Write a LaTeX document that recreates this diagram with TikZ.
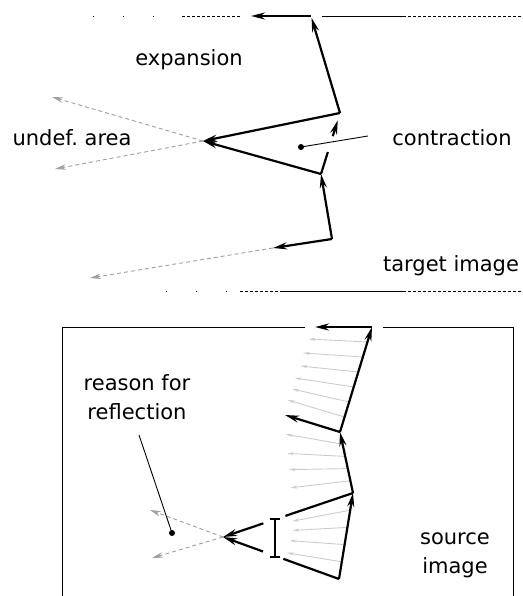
\documentclass[tikz,border=0pt]{standalone}
\usepackage{fontspec}
\setmainfont{DejaVu Sans}
\usetikzlibrary{arrows.meta,calc}

\begin{document}
\begin{tikzpicture}[
  x=1pt, y=-1pt,
  every node/.style={font=\fontsize{21}{29}\selectfont},
  vec/.style={-{Stealth[length=14pt,width=7pt]},line width=2.2pt},
  bar/.style={line width=2.2pt},
  undef/.style={-{Stealth[length=11pt,width=5.5pt]},gray!75,
                dash pattern=on 4pt off 3pt,line width=0.9pt},
  samp/.style={-{Stealth[length=7pt,width=3pt]},gray!40,line width=0.9pt},
  edge/.style={line width=0.9pt},
  fine/.style={line width=0.9pt,dash pattern=on 2.5pt off 2.5pt},
  sparse/.style={line width=0.9pt,dash pattern=on 1pt off 29pt},
]
  \useasboundingbox (0,0) rectangle (522,596);

  % Target image (top)
  \coordinate (t0) at (311,16);
  \coordinate (t0v) at (251,16);
  \coordinate (ta) at (340,113);
  \coordinate (tb) at (321,174);
  \coordinate (tc) at (332,239);
  \coordinate (tx) at (203,141);
  \coordinate (tcv) at (273,248);
  \coordinate (tcu) at (90,278);
  \coordinate (tup) at (52,97);
  \coordinate (tlo) at (55,169);
  \coordinate (tdot) at (301,147);
  \coordinate (tpin) at (368,136);
  % upper border of target image
  \draw[sparse] (93,16) -- (154,16);
  \draw[fine] (182,16) -- (240,16);
  \draw[edge] (322,16) -- (403,16);
  \draw[fine] (403,16) -- (522,16);
  % lower border of target image
  \draw[sparse] (166,291) -- (227,291);
  \draw[fine] (240,291) -- (280,291);
  \draw[edge] (280,291) -- (403,291);
  \draw[fine] (403,291) -- (522,291);
  % undefined area
  \draw[undef] (tx) -- (tup);
  \draw[undef] (tx) -- (tlo);
  \draw[undef] (tcv) -- (tcu);
  % deformed curve and its vectors
  \draw[vec] (t0) -- (t0v);
  \draw[vec,shorten >=2pt] (ta) -- (t0);
  \draw[vec] (ta) -- (tx);
  \draw[vec] (tb) -- (tx);
  \draw[vec] (tc) -- (tb);
  \draw[vec] (tc) -- (tcv);
  \draw[line width=2.2pt] (tb) -- ($(tb)!0.36!(ta)$);
  \draw[vec] ($(tb)!0.62!(ta)$) -- ($(tb)!0.88!(ta)$);
  % contraction pointer
  \fill (tdot) circle (3);
  \draw[edge] (tdot) -- (tpin);
  \node (expansion) at (189,60) {expansion};
  \node (undefarea) at (72,138) {undef.\ area};
  \node (contraction) at (452,138) {contraction};
  \node (target) at (451,266) {target image};

  % Source image (bottom)
  \coordinate (D) at (372,327);
  \coordinate (Dv) at (315,327);
  \coordinate (E) at (340,432);
  \coordinate (Ev) at (285,415);
  \coordinate (F) at (353,493);
  \coordinate (G) at (339,579);
  \coordinate (X) at (223,537);
  \coordinate (xup) at (150,510);
  \coordinate (xlo) at (152,558);
  \coordinate (sdot) at (172,533);
  \coordinate (spin) at (139,435);
  % frame
  \draw[edge] (305,327) -- (62,327) -- (62,600);
  \draw[edge] (383,327) -- (513,327) -- (513,600);
  % sampled vectors
  \foreach \k/\dx/\dy in {1/-59/-3,2/-60/-4,3/-58/-6,4/-59/-9,5/-57/-13,6/-57/-17}
    \draw[samp] ($(D)!\k/7!(E)$) -- ++(\dx,\dy);
  \foreach \k/\dx/\dy in {1/-57/-10,2/-58/-3,3/-59/1,4/-60/7}
    \draw[samp] ($(E)!\k/5!(F)$) -- ++(\dx,\dy);
  \foreach \k/\dx/\dy in {1/-58/11,2/-55/3,3/-55/-4,4/-55/-9}
    \draw[samp] ($(F)!\k/5!(G)$) -- ++(\dx,\dy);
  % reflected vectors
  \draw[undef] (X) -- (xup);
  \draw[undef] (X) -- (xlo);
  % curve and vectors
  \draw[vec] (D) -- (Dv);
  \draw[vec] (E) -- (D);
  \draw[vec] (E) -- (Ev);
  \draw[vec] (F) -- (E);
  \draw[vec] (G) -- (F);
  \draw[line width=2.2pt] (F) -- ($(F)!0.52!(X)$);
  \draw[vec] ($(F)!0.69!(X)$) -- (X);
  \draw[line width=2.2pt] (G) -- ($(G)!0.48!(X)$);
  \draw[vec] ($(G)!0.655!(X)$) -- (X);
  % interval bar
  \draw[bar] (270,519) -- (280,519) (275,519) -- (275,557) (270,557) -- (280,557);
  % reflection pointer
  \fill (sdot) circle (3);
  \draw[edge] (sdot) -- (spin);
  \node[align=center] (reason) at (137,397) {reason for\\reflection};
  \node[align=center] (source) at (455,555) {source\\image};
\end{tikzpicture}
\end{document}
